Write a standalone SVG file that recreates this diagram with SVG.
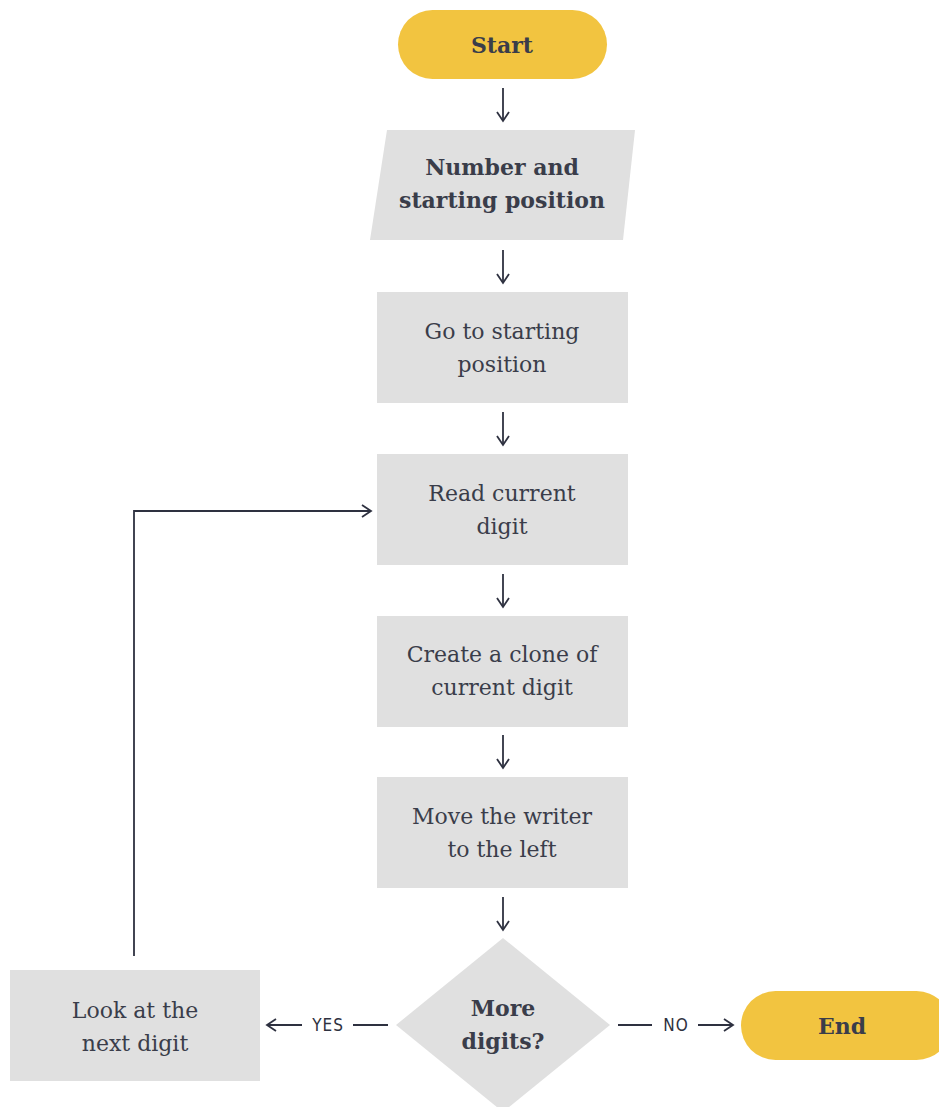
<svg xmlns="http://www.w3.org/2000/svg" width="939" height="1107" viewBox="0 0 939 1107">
<defs>
<marker id="ah" markerWidth="12" markerHeight="14" refX="10" refY="7" orient="auto" markerUnits="userSpaceOnUse">
<path d="M1,1 L10,7 L1,13" fill="none" stroke="#2e3140" stroke-width="1.8"/>
</marker>
<style>
.term{fill:#F2C440}
.box{fill:#E0E0E0}
.t{font-family:"DejaVu Serif","Liberation Serif",serif;font-size:22px;fill:#3a3d4a;text-anchor:middle}
.b{font-weight:bold}
.lbl{font-family:"DejaVu Sans Condensed","Liberation Sans",sans-serif;font-size:17px;fill:#2e3140;text-anchor:middle;letter-spacing:1px}
.c{fill:none;stroke:#2e3140;stroke-width:1.8}
</style>
</defs>
<rect width="939" height="1107" fill="#ffffff"/>
<g id="start"><rect class="term" x="398" y="10" width="209" height="69" rx="34.5"/><text class="t b" x="502" y="53">Start</text></g>
<g id="input"><polygon class="box" points="387,130 635,130 623,240 370,240"/><text class="t b" x="502" y="175">Number and</text><text class="t b" x="502" y="208">starting position</text></g>
<g id="goto"><rect class="box" x="377" y="292" width="251" height="111"/><text class="t" x="502" y="339">Go to starting</text><text class="t" x="502" y="372">position</text></g>
<g id="read"><rect class="box" x="377" y="454" width="251" height="111"/><text class="t" x="502" y="501">Read current</text><text class="t" x="502" y="534">digit</text></g>
<g id="clone"><rect class="box" x="377" y="616" width="251" height="111"/><text class="t" x="502" y="662">Create a clone of</text><text class="t" x="502" y="695">current digit</text></g>
<g id="move"><rect class="box" x="377" y="777" width="251" height="111"/><text class="t" x="502" y="824">Move the writer</text><text class="t" x="502" y="857">to the left</text></g>
<g id="decision"><polygon class="box" points="503,938 610,1025 503,1112 396,1025"/><text class="t b" x="503" y="1016">More</text><text class="t b" x="503" y="1049">digits?</text></g>
<g id="next"><rect class="box" x="10" y="970" width="250" height="111"/><text class="t" x="135" y="1018">Look at the</text><text class="t" x="135" y="1051">next digit</text></g>
<g id="end"><rect class="term" x="741" y="991" width="210" height="69" rx="34.5"/><text class="t b" x="842" y="1034">End</text></g>
<g id="connectors">
<line class="c" x1="503" y1="88" x2="503" y2="121" marker-end="url(#ah)"/>
<line class="c" x1="503" y1="250" x2="503" y2="283" marker-end="url(#ah)"/>
<line class="c" x1="503" y1="412" x2="503" y2="445" marker-end="url(#ah)"/>
<line class="c" x1="503" y1="574" x2="503" y2="607" marker-end="url(#ah)"/>
<line class="c" x1="503" y1="735" x2="503" y2="768" marker-end="url(#ah)"/>
<line class="c" x1="503" y1="897" x2="503" y2="930" marker-end="url(#ah)"/>
<polyline class="c" points="134,956 134,511 371,511" marker-end="url(#ah)"/>
<line class="c" x1="388" y1="1025" x2="353" y2="1025"/>
<line class="c" x1="302" y1="1025" x2="267" y2="1025" marker-end="url(#ah)"/>
<text class="lbl" x="328" y="1031">YES</text>
<line class="c" x1="618" y1="1025" x2="652" y2="1025"/>
<line class="c" x1="698" y1="1025" x2="733" y2="1025" marker-end="url(#ah)"/>
<text class="lbl" x="676" y="1031">NO</text>
</g>
</svg>
